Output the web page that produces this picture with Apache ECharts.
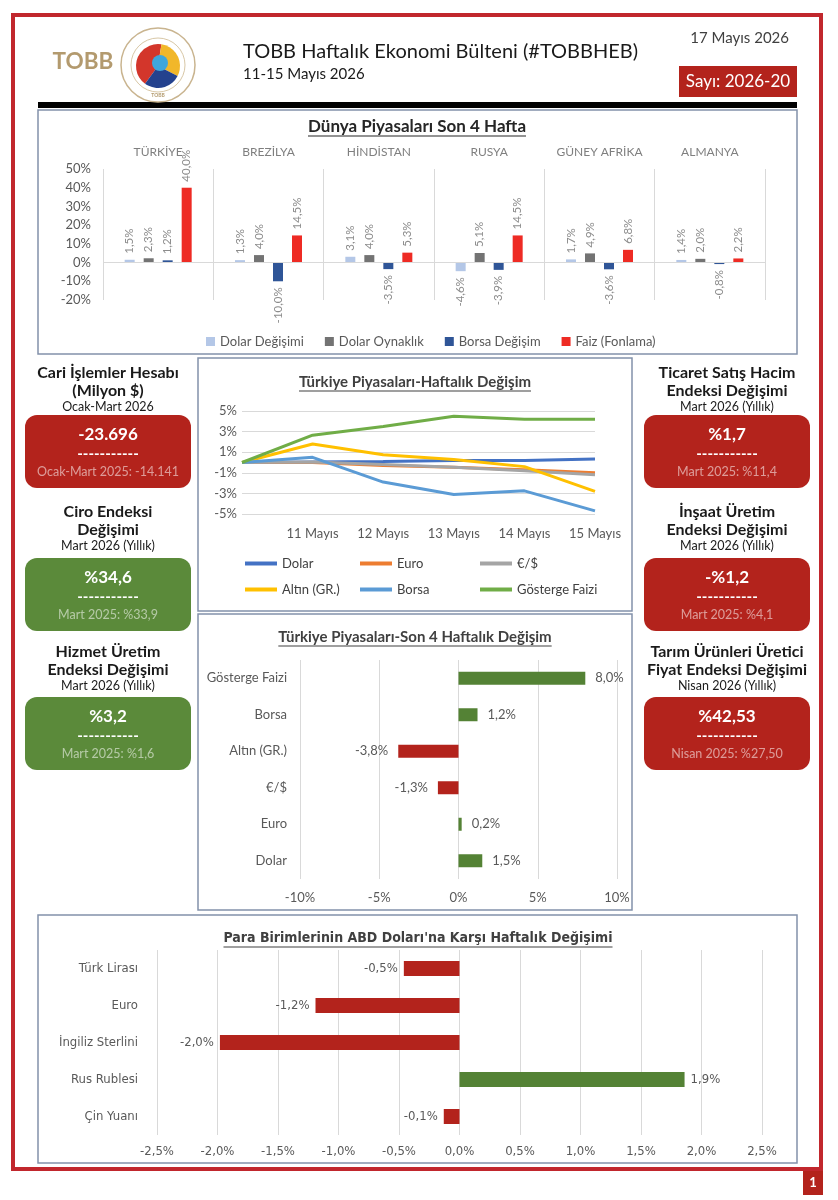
<!DOCTYPE html>
<html><head><meta charset="utf-8">
<script src="https://cdn.jsdelivr.net/npm/echarts@6/dist/echarts.min.js"></script>
<style>html,body{margin:0;padding:0;background:#fff}#c{width:838px;height:1200px}</style>
</head><body><div id="c"></div>
<script>
// ---------- DATA ----------
const worldCountries = ['TÜRKİYE','BREZİLYA','HİNDİSTAN','RUSYA','GÜNEY AFRİKA','ALMANYA'];
const worldSeriesNames = ['Dolar Değişimi','Dolar Oynaklık','Borsa Değişim','Faiz (Fonlama)'];
const dolarDegisimi = [1.5, 1.3, 3.1, -4.6, 1.7, 1.4];
const dolarOynaklik = [2.3, 4.0, 4.0, 5.1, 4.9, 2.0];
const borsaDegisim = [1.2, -10.0, -3.5, -3.9, -3.6, -0.8];
const faizFonlama = [40.0, 14.5, 5.3, 14.5, 6.8, 2.2];

const weekDays = ['', '11 Mayıs', '12 Mayıs', '13 Mayıs', '14 Mayıs', '15 Mayıs'];
const lineNames = ['Dolar','Euro','€/$','Altın (GR.)','Borsa','Gösterge Faizi'];
const lineDolar = [0, 0.05, 0.1, 0.2, 0.2, 0.35];
const lineEuro = [0, 0.0, -0.3, -0.45, -0.7, -1.0];
const lineEurUsd = [0, 0.05, -0.2, -0.45, -0.8, -1.2];
const lineAltin = [0, 1.8, 0.75, 0.3, -0.4, -2.8];
const lineBorsa = [0, 0.5, -1.9, -3.1, -2.75, -4.7];
const lineFaiz = [0, 2.65, 3.5, 4.5, 4.2, 4.2];

const fourWeekCats = ['Gösterge Faizi','Borsa','Altın (GR.)','€/$','Euro','Dolar'];
const fourWeekValues = [8.0, 1.2, -3.8, -1.3, 0.2, 1.5];

const currencyCats = ['Türk Lirası','Euro','İngiliz Sterlini','Rus Rublesi','Çin Yuanı'];
const currencyValues = [-0.46, -1.19, -1.98, 1.86, -0.13];

const kpiTitles = [['Cari İşlemler Hesabı','(Milyon $)'],['Ciro Endeksi','Değişimi'],['Hizmet Üretim','Endeksi Değişimi'],['Ticaret Satış Hacim','Endeksi Değişimi'],['İnşaat Üretim','Endeksi Değişimi'],['Tarım Ürünleri Üretici','Fiyat Endeksi Değişimi']];
const kpiPeriods = ['Ocak-Mart 2026','Mart 2026 (Yıllık)','Mart 2026 (Yıllık)','Mart 2026 (Yıllık)','Mart 2026 (Yıllık)','Nisan 2026 (Yıllık)'];
const kpiValues = ['-23.696','%34,6','%3,2','%1,7','-%1,2','%42,53'];
const kpiPrevious = ['Ocak-Mart 2025: -14.141','Mart 2025: %33,9','Mart 2025: %1,6','Mart 2025: %11,4','Mart 2025: %4,1','Nisan 2025: %27,50'];

const headerTitle = 'TOBB Haftalık Ekonomi Bülteni (#TOBBHEB)';
const headerDates = '11-15 Mayıs 2026';
const headerDay = '17 Mayıs 2026';
const headerIssue = 'Sayı: 2026-20';
const chartTitles = ['Dünya Piyasaları Son 4 Hafta','Türkiye Piyasaları-Haftalık Değişim','Türkiye Piyasaları-Son 4 Haftalık Değişim',"Para Birimlerinin ABD Doları'na Karşı Haftalık Değişimi"];

// ---------- STYLE ----------
const F = 'Lato, "Open Sans", sans-serif';
const FC = '"Liberation Sans Narrow", "DejaVu Sans Condensed", Lato, sans-serif';
const RED = '#b3231c', GREEN = '#5b8a3a', BOX = '#8391ab', AX = '#595959', GRID = '#d9d9d9';
const pct1 = v => v.toFixed(1).replace('.', ',') + '%';

const mctx = document.createElement('canvas').getContext('2d');
function tw(text, font){ mctx.font = font; return mctx.measureText(text).width; }
function T(text, x, y, font, fill, align, vAlign){
  align = align || 'center'; vAlign = vAlign || 'middle';
  return {type:'text', silent:true, z:10, style:{text:text, x:x, y:y, font:font, fill:fill, textAlign:align, textVerticalAlign:vAlign, align:align, verticalAlign:vAlign}};
}
function R(x,y,w,h,fill,stroke,lw,r){
  return {type:'rect', silent:true, z:1, shape:{x:x,y:y,width:w,height:h,r:r||0}, style:{fill:fill||'none', stroke:stroke||null, lineWidth:lw||0}};
}
function titleU(text, cx, cy, font, color){
  const w = tw(text, font);
  return [T(text, cx, cy, font, color),
    {type:'line', silent:true, z:10, shape:{x1:cx-w/2, y1:cy+9, x2:cx+w/2, y2:cy+9}, style:{stroke:color, lineWidth:1.2}}];
}

const g = [];
// page frame
g.push(R(13,15,808,1154,'none','#c1272d',4));
g.push(R(803,1171,20,24,RED));
g.push(T('1',813,1183,'bold 13px '+F,'#fff'));
// header
g.push(T('TOBB',83,62,'bold 22.5px '+F,'#b39a6e'));
g.push({type:'circle', silent:true, z:2, shape:{cx:158,cy:65,r:37}, style:{fill:'#fff',stroke:'#c9b48f',lineWidth:1.5}});
g.push({type:'circle', silent:true, z:2, shape:{cx:158,cy:65,r:27}, style:{fill:'#fff',stroke:'#d8c7a6',lineWidth:1}});
g.push({type:'sector', silent:true, z:3, shape:{cx:158,cy:66,r0:0,r:22,startAngle:0.7*Math.PI,endAngle:1.55*Math.PI}, style:{fill:'#d3362b'}});
g.push({type:'sector', silent:true, z:3, shape:{cx:158,cy:66,r0:0,r:22,startAngle:1.55*Math.PI,endAngle:2.15*Math.PI}, style:{fill:'#f1b72a'}});
g.push({type:'sector', silent:true, z:3, shape:{cx:158,cy:66,r0:0,r:22,startAngle:0.15*Math.PI,endAngle:0.7*Math.PI}, style:{fill:'#24428e'}});
g.push({type:'circle', silent:true, z:4, shape:{cx:160,cy:63,r:8}, style:{fill:'#3ea6dc'}});
g.push(T('TOBB',158,95,'bold 5px '+F,'#b39a6e'));
g.push(T(headerTitle,243,52,'20px '+F,'#1a1a1a','left'));
g.push(T(headerDates,243,74,'15px '+F,'#1a1a1a','left'));
g.push(T(headerDay,789,38,'15px '+F,'#404040','right'));
g.push(R(679,66,118,31,RED));
g.push(T(headerIssue,738,82,'17px '+F,'#fff'));
g.push(R(38,102,759,6,'#000'));
// chart boxes
g.push(R(38,110,759,244,'none',BOX,1.5));
g.push(R(198,358,434,253,'none',BOX,1.5));
g.push(R(198,614,434,296,'none',BOX,1.5));
g.push(R(38,915,759,248,'none',BOX,1.5));
g.push(...titleU(chartTitles[0],417,127,'bold 17px '+F,'#262626'));
g.push(...titleU(chartTitles[1],415,382,'bold 15px '+F,'#404040'));
g.push(...titleU(chartTitles[2],415,637,'bold 15px '+F,'#404040'));
g.push(...titleU(chartTitles[3],418,938,'bold 14px '+FC,'#404040'));
// KPI panels
const kpiColors = [RED, GREEN, GREEN, RED, RED, RED];
const kpiCX = [108,108,108,727,727,727];
const kpiTitleY = [373,512,652];
const kpiBoxY = [415,558,697];
kpiTitles.forEach((t,i)=>{
  const cx = kpiCX[i], row = i%3, ty = kpiTitleY[row], by = kpiBoxY[row];
  g.push(T(t[0],cx,ty,'bold 16px '+F,'#1a1a1a'));
  g.push(T(t[1],cx,ty+17.5,'bold 16px '+F,'#1a1a1a'));
  g.push(T(kpiPeriods[i],cx,ty+34,'12.5px '+F,'#1a1a1a'));
  g.push(R(cx-83,by,166,73,kpiColors[i],null,0,12));
  g.push(T(kpiValues[i],cx,by+20,'bold 17px '+F,'#fff'));
  g.push(T('-----------',cx,by+39,'bold 15px '+F,'#fff'));
  g.push(T(kpiPrevious[i],cx,by+57,'12.5px '+F,'rgba(255,255,255,0.55)'));
});

// ---------- SERIES ----------
const worldColors = ['#b4c7e7','#737373','#2f5597','#ee2b24'];
const worldData = [dolarDegisimi, dolarOynaklik, borsaDegisim, faizFonlama];
const series = [];
worldData.forEach((arr,i)=>{
  series.push({
    name: worldSeriesNames[i], type:'bar', xAxisIndex:0, yAxisIndex:0, barWidth:10, barGap:'90%',
    itemStyle:{color:worldColors[i]},
    data: arr.map(v=>({value:v, label: v>=0 ? {position:'top', align:'left'} : {position:'bottom', align:'right'}})),
    label:{show:true, rotate:90, verticalAlign:'middle', distance:6, color:'#8c8c8c', fontSize:11.5, fontFamily:F, formatter:p=>pct1(p.value)},
    markLine: i===0 ? {silent:true, symbol:'none', label:{show:false}, lineStyle:{color:GRID,type:'solid',width:1}, data:[{yAxis:0}]} : undefined
  });
});
const lineColors = ['#4472c4','#ed7d31','#a5a5a5','#ffc000','#5b9bd5','#70ad47'];
[lineDolar, lineEuro, lineEurUsd, lineAltin, lineBorsa, lineFaiz].forEach((arr,i)=>{
  series.push({name: lineNames[i], type:'line', xAxisIndex:1, yAxisIndex:1, data:arr, symbol:'none', showSymbol:false,
    lineStyle:{width:3, color:lineColors[i]}, itemStyle:{color:lineColors[i]}, z:3});
});
series.push({name:'fourWeek', type:'bar', xAxisIndex:2, yAxisIndex:2, barWidth:13,
  data: fourWeekValues.map(v=>({value:v, itemStyle:{color: v>=0 ? '#548235' : RED}, label:{position: v>=0 ? 'right':'left'}})),
  label:{show:true, distance:10, color:AX, fontSize:13, fontFamily:F, formatter:p=>pct1(p.value)}});
series.push({name:'currency', type:'bar', xAxisIndex:3, yAxisIndex:3, barWidth:15,
  data: currencyValues.map(v=>({value:v, itemStyle:{color: v>=0 ? '#548235' : RED}, label:{position: v>=0 ? 'right':'left'}})),
  label:{show:true, distance:6, color:AX, fontSize:13, fontFamily:FC, formatter:p=>pct1(p.value)}});

const legends = [{data:worldSeriesNames, left:206, top:335, padding:0, itemWidth:9, itemHeight:9, itemGap:21, icon:'rect',
  textStyle:{fontSize:13, color:AX, fontFamily:F}}];
const legLeft = [245,360,480], legTop = [557,583];
lineNames.forEach((n,i)=>legends.push({data:[{name:n, icon:'rect'}], left:legLeft[i%3], top:legTop[Math.floor(i/3)], padding:0,
  itemWidth:32, itemHeight:4, textStyle:{fontSize:13, color:'#404040', fontFamily:F}}));

const option = {
  animation:false, backgroundColor:'#fff', textStyle:{fontFamily:F},
  grid:[
    {left:103, top:169, width:662, height:131},
    {left:242, top:411, width:353, height:103},
    {left:300, top:660, width:317, height:219},
    {left:157, top:950, width:605, height:185}
  ].map(o=>Object.assign(o,{containLabel:false, outerBoundsMode:'none'})),
  legend: legends,
  xAxis:[
    {type:'category', gridIndex:0, data:worldCountries, position:'top', axisLine:{show:false}, axisTick:{show:false},
      axisLabel:{color:'#7f7f7f', fontSize:12, margin:11, interval:0, fontFamily:F}, splitLine:{show:true, interval:0, lineStyle:{color:GRID}}},
    {type:'category', gridIndex:1, data:weekDays, boundaryGap:false, axisLine:{show:false}, axisTick:{show:false},
      axisLabel:{color:AX, fontSize:13, margin:13, interval:0, fontFamily:F}, splitLine:{show:false}},
    {type:'value', gridIndex:2, min:-10, max:10, interval:5, axisLine:{show:false}, axisTick:{show:false},
      axisLabel:{color:AX, fontSize:13, margin:12, fontFamily:F, formatter:v=>v+'%'}, splitLine:{show:true, lineStyle:{color:GRID}}},
    {type:'value', gridIndex:3, min:-2.5, max:2.5, interval:0.5, axisLine:{show:false}, axisTick:{show:false},
      axisLabel:{color:AX, fontSize:13, margin:10, fontFamily:FC, formatter:v=>pct1(v)}, splitLine:{show:true, lineStyle:{color:GRID}}}
  ],
  yAxis:[
    {type:'value', gridIndex:0, min:-20, max:50, interval:10, axisLine:{show:false}, axisTick:{show:false}, splitLine:{show:false},
      axisLabel:{color:AX, fontSize:13, margin:12, fontFamily:F, formatter:v=>v+'%'}},
    {type:'value', gridIndex:1, min:-5, max:5, interval:2, axisLine:{show:false}, axisTick:{show:false},
      splitLine:{show:true, lineStyle:{color:GRID}}, axisLabel:{color:AX, fontSize:13, margin:5, fontFamily:F, formatter:v=>v+'%'}},
    {type:'category', gridIndex:2, data:fourWeekCats, inverse:true, axisLine:{show:false, onZero:false}, axisTick:{show:false},
      axisLabel:{color:AX, fontSize:13, margin:13, interval:0, fontFamily:F}},
    {type:'category', gridIndex:3, data:currencyCats, inverse:true, axisLine:{show:false, onZero:false}, axisTick:{show:false},
      axisLabel:{color:AX, fontSize:13, margin:19, interval:0, fontFamily:FC}}
  ],
  series: series,
  graphic:{elements:g}
};
const chart = echarts.init(document.getElementById('c'), null, {width:838, height:1200});
chart.setOption(option);
</script></body></html>
